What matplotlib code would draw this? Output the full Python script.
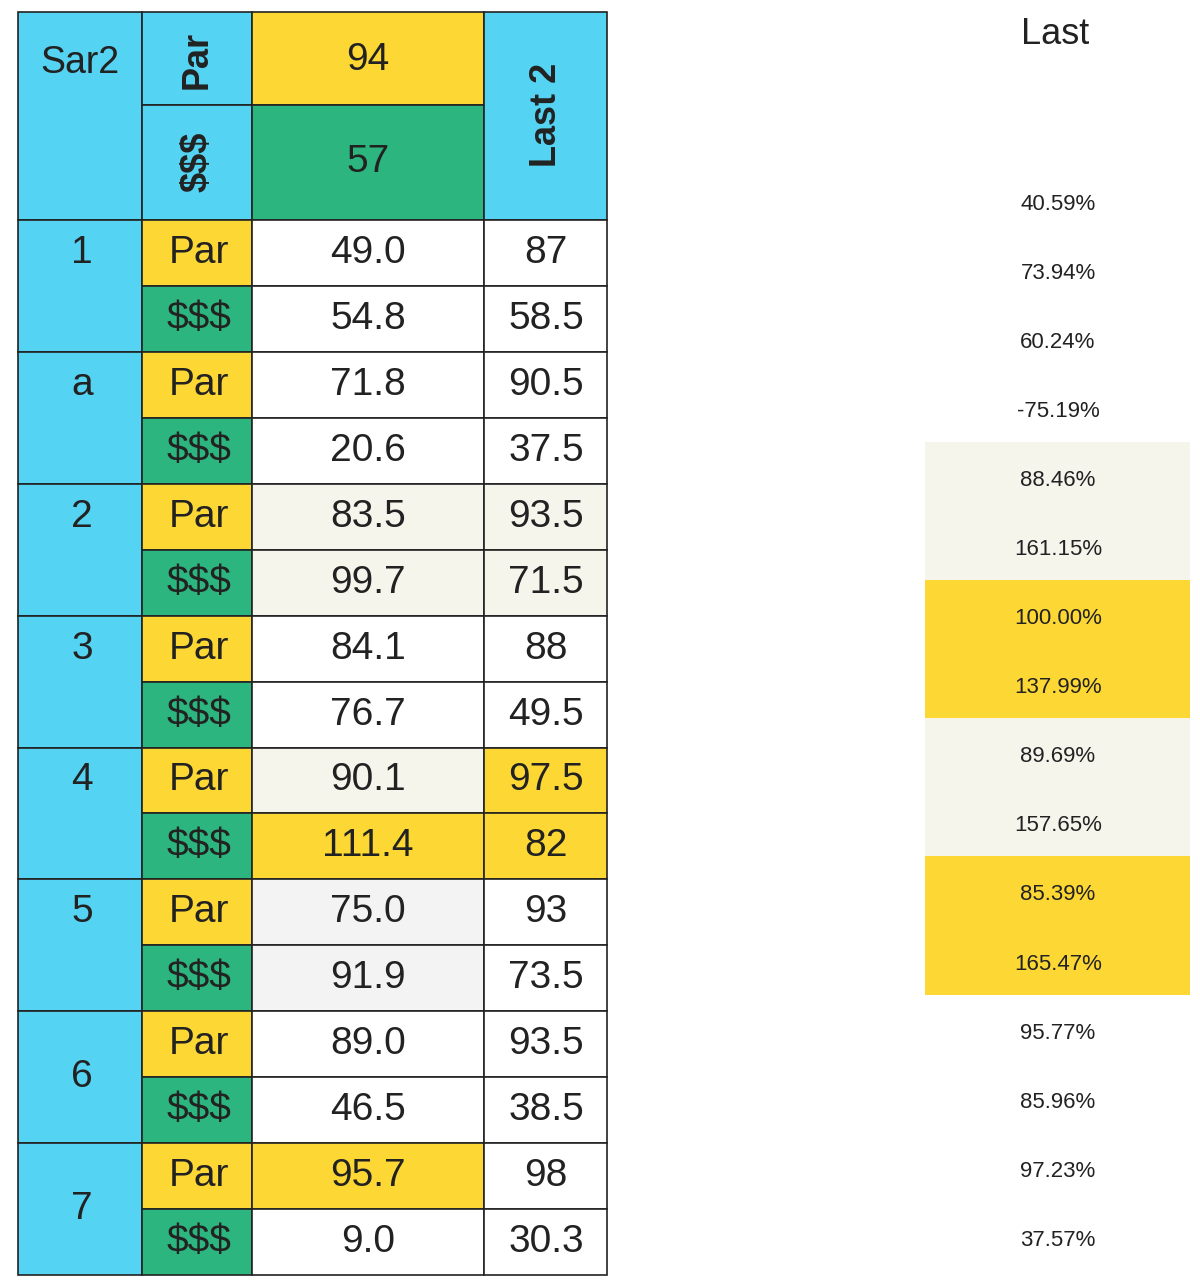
import matplotlib
matplotlib.use("Agg")
import matplotlib.pyplot as plt
from matplotlib.patches import Rectangle

header_par = "94"
header_usd = "57"
groups = ["1", "a", "2", "3", "4", "5", "6", "7"]
kinds = ["Par", "$$$"]
values = ["49.0", "54.8", "71.8", "20.6", "83.5", "99.7", "84.1", "76.7",
          "90.1", "111.4", "75.0", "91.9", "89.0", "46.5", "95.7", "9.0"]
last2 = ["87", "58.5", "90.5", "37.5", "93.5", "71.5", "88", "49.5",
         "97.5", "82", "93", "73.5", "93.5", "38.5", "98", "30.3"]
pcts = ["40.59%", "73.94%", "60.24%", "-75.19%", "88.46%", "161.15%", "100.00%", "137.99%",
        "89.69%", "157.65%", "85.39%", "165.47%", "95.77%", "85.96%", "97.23%", "37.57%"]
val_fill = ["w", "w", "w", "w", "l", "l", "w", "w", "l", "y", "g", "g", "w", "w", "y", "w"]
last_fill = ["w", "w", "w", "w", "l", "l", "w", "w", "y", "y", "w", "w", "w", "w", "w", "w"]
pct_fill = ["n", "n", "n", "n", "l", "l", "y", "y", "l", "l", "y", "y", "n", "n", "n", "n"]

CY = "#55d3f2"; YE = "#fdd835"; GR = "#2cb57e"
fills = {"w": "white", "l": "#f6f5ec", "y": YE, "g": "#f3f3f3", "n": "none"}

fig = plt.figure(figsize=(12, 12.86), dpi=100)
ax = fig.add_axes([0, 0, 1, 1])
ax.set_xlim(0, 1200); ax.set_ylim(1286, 0); ax.axis("off")
font = "Liberation Sans"

def cell(x0, y0, x1, y1, fc, edge=True):
    ax.add_patch(Rectangle((x0, y0), x1 - x0, y1 - y0, fc=fc,
                           ec="#222" if edge else "none", lw=1.2))

def txt(x, y, s, size=30, rot=0, weight="normal"):
    ax.text(x, y, s, ha="center", va="center", fontsize=size, rotation=rot,
            family=font, weight=weight, color="#222")

xs = [18, 142, 252, 484, 607]
top, hmid, hbot = 12, 105, 220
rh = (1275 - hbot) / 16

# header
cell(xs[0], top, xs[1], hbot, CY); txt(80, 63, "Sar2", 27)
cell(xs[1], top, xs[2], hmid, CY); txt(197, 60, "Par", 26, 90, "bold")
cell(xs[1], hmid, xs[2], hbot, CY); txt(197, 162, "$$$", 26, 90, "bold")
cell(xs[2], top, xs[3], hmid, YE); txt(368, 60, header_par, 28)
cell(xs[2], hmid, xs[3], hbot, GR); txt(368, 162, header_usd, 28)
cell(xs[3], top, xs[4], hbot, CY); txt(546, 115, "Last 2", 26, 90, "bold")

for g, name in enumerate(groups):
    y0 = hbot + 2 * g * rh
    cell(xs[0], y0, xs[1], y0 + 2 * rh, CY)
    ty = y0 + rh / 2 if name in "1a2345" else y0 + rh
    txt(82, ty, name, 28)

for i in range(16):
    y0 = hbot + i * rh; y1 = y0 + rh; yc = (y0 + y1) / 2
    k = kinds[i % 2]
    cell(xs[1], y0, xs[2], y1, YE if k == "Par" else GR); txt(199, yc, k, 28)
    cell(xs[2], y0, xs[3], y1, fills[val_fill[i]]); txt(368, yc, values[i], 28)
    cell(xs[3], y0, xs[4], y1, fills[last_fill[i]]); txt(546, yc, last2[i], 28)

# right column
txt(1055, 35, "Last", 26)
pr = 69.1
for i, p in enumerate(pcts):
    yc = 204 + i * pr
    if pct_fill[i] != "n":
        ax.add_patch(Rectangle((925, yc - pr / 2 - 4), 265, pr, fc=fills[pct_fill[i]], ec="none"))
    ax.text(1058, yc, p, ha="center", va="center", fontsize=16, family=font, color="#222")

fig.savefig("out.png", dpi=100)
